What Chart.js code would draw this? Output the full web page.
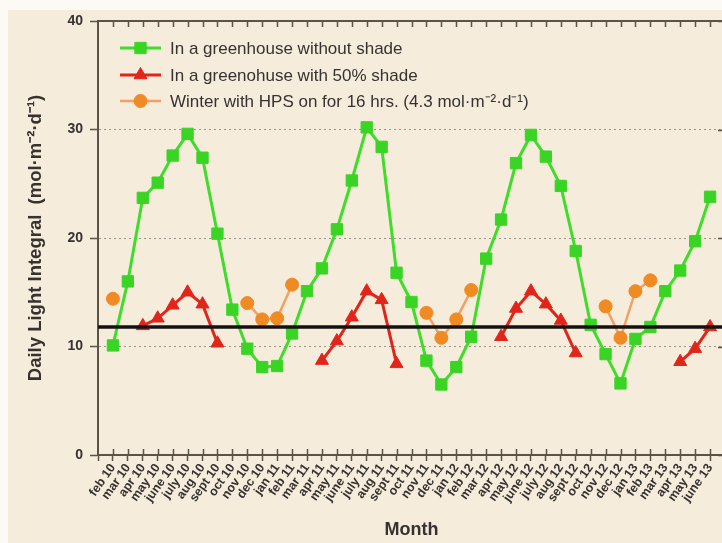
<!DOCTYPE html>
<html><head><meta charset="utf-8">
<script src="https://cdn.jsdelivr.net/npm/chart.js@4/dist/chart.umd.min.js"></script>
<style>
html,body{margin:0;padding:0;background:#fff;overflow:hidden;width:722px;height:543px}
#wrap{position:absolute;left:0;top:0;width:734px;height:543px}
</style></head><body>
<div id="wrap"><canvas id="c" width="734" height="543"></canvas></div>
<script>
// ---- data ----
const months = ['feb 10','mar 10','apr 10','may 10','june 10','july 10','aug 10','sept 10','oct 10','nov 10','dec 10',
  'jan 11','feb 11','mar 11','apr 11','may 11','june 11','july 11','aug 11','sept 11','oct 11','nov 11','dec 11',
  'jan 12','feb 12','mar 12','apr 12','may 12','june 12','july 12','aug 12','sept 12','oct 12','nov 12','dec 12',
  'jan 13','feb 13','mar 13','apr 13','may 13','june 13'];
const noShade = [10.1,16.0,23.7,25.1,27.6,29.6,27.4,20.4,13.4,9.8,8.1,
  8.2,11.2,15.1,17.2,20.8,25.3,30.2,28.4,16.8,14.1,8.7,6.5,
  8.1,10.9,18.1,21.7,26.9,29.5,27.5,24.8,18.8,12.0,9.3,6.6,
  10.7,11.8,15.1,17.0,19.7,23.8];
const shade50 = [null,null,11.9,12.6,13.8,15.0,13.9,10.3,null,null,null,
  null,null,null,8.7,10.5,12.7,15.1,14.3,8.4,null,null,null,
  null,null,null,10.9,13.5,15.1,13.9,12.4,9.4,null,null,null,
  null,null,null,8.6,9.8,11.8];
const hpsWinter = [14.4,null,null,null,null,null,null,null,null,14.0,12.5,
  12.6,15.7,null,null,null,null,null,null,null,null,13.1,10.8,
  12.5,15.2,null,null,null,null,null,null,null,null,13.7,10.8,
  15.1,16.1,null,null,null,null];
const dliLine = 11.8;
const seriesLabels = ['In a greenhouse without shade','In a greenohuse with 50% shade','Winter with HPS on for 16 hrs. (4.3 mol·m⁻²·d⁻¹)'];
const yTicks = [0,10,20,30,40];

// padded category axis (one empty slot at each end)
const labels = [''].concat(months, ['']);
const pad = a => [null].concat(a, [null]);

const FONT = "Arial, 'Liberation Sans', Helvetica, sans-serif";
const AXIS = '#5b5345';
const TXT = '#353230';

const frame = {
  id: 'frame',
  beforeDraw(chart) {
    const c = chart.ctx;
    c.save();
    c.fillStyle = '#fdfaf5';
    c.fillRect(0, 0, chart.width, chart.height);
    c.fillStyle = '#f6ecdc';
    c.fillRect(8, 10, chart.width - 8, chart.height - 10);
    c.restore();
  },
  afterDatasetsDraw(chart) {
    const c = chart.ctx, a = chart.chartArea, x = chart.scales.x, y = chart.scales.y;
    c.save();
    c.strokeStyle = AXIS;
    c.lineWidth = 2;
    c.beginPath(); c.moveTo(a.left - 1, a.top); c.lineTo(a.right, a.top); c.stroke();
    c.beginPath(); c.moveTo(a.right, a.top); c.lineTo(a.right, a.bottom); c.stroke();
    c.lineWidth = 1.5;
    for (let i = 1; i <= months.length; i++) {
      const px = Math.round(x.getPixelForValue(i)) + 0.5;
      c.beginPath(); c.moveTo(px, a.top); c.lineTo(px, a.top + 6); c.stroke();
      c.beginPath(); c.moveTo(px, a.bottom); c.lineTo(px, a.bottom - 6); c.stroke();
    }
    yTicks.forEach(v => {
      const py = Math.round(y.getPixelForValue(v)) + 0.5;
      c.beginPath(); c.moveTo(a.right, py); c.lineTo(a.right - 7, py); c.stroke();
    });
    c.restore();
  },
  afterDraw(chart) {
    const c = chart.ctx;
    const ds = chart.data.datasets;
    const rows = [48, 75, 101];
    c.save();
    c.font = '17px ' + FONT;
    c.textBaseline = 'middle';
    for (let i = 0; i < 3; i++) {
      const d = ds[i], ry = rows[i];
      c.strokeStyle = d.borderColor;
      c.lineWidth = d.borderWidth;
      c.beginPath(); c.moveTo(120, ry); c.lineTo(161, ry); c.stroke();
      c.fillStyle = d.pointBackgroundColor;
      c.strokeStyle = d.pointBorderColor;
      c.lineWidth = 1;
      Chart.helpers.drawPoint(c, {pointStyle: d.pointStyle, radius: d.pointRadius, rotation: 0, borderWidth: 1}, 140.5, ry);
      c.fillStyle = TXT;
      c.fillText(seriesLabels[i], 170, ry + 1);
    }
    c.restore();
  }
};

new Chart(document.getElementById('c'), {
  type: 'line',
  data: {
    labels: labels,
    datasets: [
      { label: seriesLabels[0], data: pad(noShade), borderColor: '#3fdc2a', pointBackgroundColor: '#3ad425', pointBorderColor: '#3ad425',
        borderWidth: 3, pointStyle: 'rect', pointRadius: 8, pointBorderWidth: 1, order: 3 },
      { label: seriesLabels[1], data: pad(shade50), borderColor: '#e0261a', pointBackgroundColor: '#e0261a', pointBorderColor: '#e0261a',
        borderWidth: 3, pointStyle: 'triangle', pointRadius: 7.5, pointBorderWidth: 1, order: 2 },
      { label: seriesLabels[2], data: pad(hpsWinter), borderColor: '#f2a063', pointBackgroundColor: '#f08a22', pointBorderColor: '#f08a22',
        borderWidth: 2.5, pointStyle: 'circle', pointRadius: 6.5, pointBorderWidth: 1, order: 1 },
      { label: 'DLI', data: labels.map(() => dliLine), borderColor: '#141210', borderWidth: 3.5, pointRadius: 0, order: 0 }
    ]
  },
  plugins: [frame],
  options: {
    responsive: false,
    animation: false,
    spanGaps: false,
    layout: { padding: { left: 0, top: 21, right: 2, bottom: 0 } },
    plugins: { legend: { display: false }, tooltip: { enabled: false } },
    elements: { line: { tension: 0 } },
    scales: {
      x: {
        type: 'category',
        grid: { drawOnChartArea: false, drawTicks: true, tickLength: 6, tickColor: AXIS, tickWidth: 1.5 },
        border: { display: true, color: AXIS, width: 2 },
        ticks: { autoSkip: false, maxRotation: 55, minRotation: 55, padding: 0, color: TXT,
          font: { family: FONT, size: 12.5, weight: 'bold' } },
        title: { display: true, text: 'Month', color: TXT, font: { family: FONT, size: 18, weight: 'bold' },
          padding: { top: 0, bottom: 2 } },
        afterFit(s) { s.height = 88; s.paddingLeft = 0; s.paddingRight = 0; }
      },
      y: {
        min: 0, max: 40,
        afterBuildTicks(s) { s.ticks = yTicks.map(v => ({ value: v })); },
        grid: { color: c => (c.tick && (c.tick.value === 0 || c.tick.value === 40)) ? 'rgba(0,0,0,0)' : '#9a948a',
          lineWidth: 1, drawTicks: true, tickLength: 8, tickColor: AXIS, tickWidth: 1.5 },
        border: { display: true, color: AXIS, width: 2, dash: [2, 3] },
        ticks: { padding: 7, color: TXT, font: { family: FONT, size: 14, weight: 'bold' } },
        title: { display: true, text: 'Daily Light Integral  (mol·m⁻²·d⁻¹)', color: TXT,
          font: { family: FONT, size: 18.5, weight: 'bold' }, padding: { top: 25, bottom: 0 } },
        afterFit(s) { s.width = 98; }
      }
    }
  }
});
</script>
</body></html>
